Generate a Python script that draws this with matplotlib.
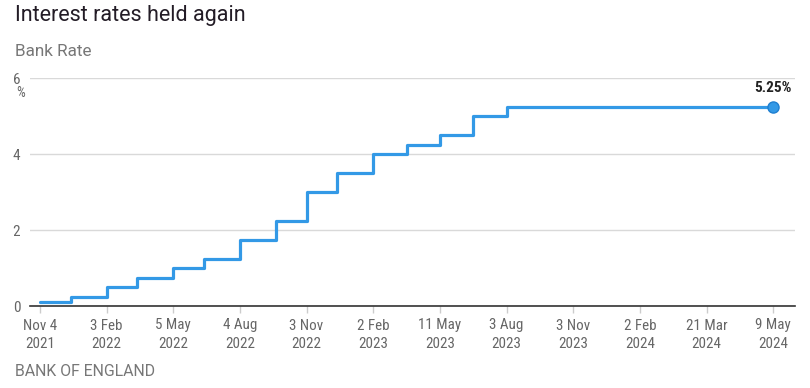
import datetime as dt
import numpy as np
import matplotlib
matplotlib.use("Agg")
import matplotlib.pyplot as plt
import matplotlib.dates as mdates
from matplotlib import font_manager as fm

# ---- data ----
decision_dates = ["2021-11-04", "2021-12-16", "2022-02-03", "2022-03-17", "2022-05-05",
                  "2022-06-16", "2022-08-04", "2022-09-22", "2022-11-03", "2022-12-15",
                  "2023-02-02", "2023-03-23", "2023-05-11", "2023-06-22", "2023-08-03",
                  "2023-09-21", "2023-11-02", "2023-12-14", "2024-02-01", "2024-03-21",
                  "2024-05-09"]
bank_rate = [0.10, 0.25, 0.50, 0.75, 1.00, 1.25, 1.75, 2.25, 3.00, 3.50, 4.00, 4.25,
             4.50, 5.00, 5.25, 5.25, 5.25, 5.25, 5.25, 5.25, 5.25]
tick_dates = ["2021-11-04", "2022-02-03", "2022-05-05", "2022-08-04", "2022-11-03",
              "2023-02-02", "2023-05-11", "2023-08-03", "2023-11-03", "2024-02-02",
              "2024-03-21", "2024-05-09"]
tick_labels = ["Nov 4\n2021", "3 Feb\n2022", "5 May\n2022", "4 Aug\n2022", "3 Nov\n2022",
               "2 Feb\n2023", "11 May\n2023", "3 Aug\n2023", "3 Nov\n2023", "2 Feb\n2024",
               "21 Mar\n2024", "9 May\n2024"]
y_ticks = [0, 2, 4, 6]
title = "Interest rates held again"
subtitle = "Bank Rate"
source = "BANK OF ENGLAND"
end_label = "5.25%"

# ---- fonts ----
def _is_bold(f):
    try:
        return int(f.weight) >= 600
    except (TypeError, ValueError):
        return str(f.weight).lower() in ("bold", "semibold", "demibold", "heavy", "black")

def narrow_font(bold=False):
    fl = [f for f in fm.fontManager.ttflist if str(f.style) == "normal"]
    for fam in ["Roboto Condensed", "Liberation Sans Narrow", "Open Sans Condensed"]:
        cands = [f for f in fl if f.name == fam]
        if cands:
            pick = [f for f in cands if _is_bold(f) == bold]
            return fm.FontProperties(fname=(pick or cands)[0].fname)
    cands = [f for f in fl if f.name == "DejaVu Sans" and "ondensed" in str(f.stretch)]
    if cands:
        pick = [f for f in cands if _is_bold(f) == bold]
        return fm.FontProperties(fname=(pick or cands)[0].fname)
    return fm.FontProperties(family="DejaVu Sans", weight="bold" if bold else "normal")

NARROW = narrow_font()
NARROW_B = narrow_font(True)

dates = [dt.datetime.strptime(d, "%Y-%m-%d") for d in decision_dates]
tdates = [dt.datetime.strptime(d, "%Y-%m-%d") for d in tick_dates]

# piecewise time scale: labelled dates are spaced evenly (as in the original chart)
tn = mdates.date2num(tdates)
slot = np.arange(len(tn), dtype=float)

def fwd(x):
    x = np.asarray(x, dtype=float)
    y = np.interp(x, tn, slot)
    lo, hi = x < tn[0], x > tn[-1]
    y = np.where(lo, (x - tn[0]) / (tn[1] - tn[0]), y)
    y = np.where(hi, slot[-1] + (x - tn[-1]) / (tn[-1] - tn[-2]), y)
    return y

def inv(y):
    y = np.asarray(y, dtype=float)
    x = np.interp(y, slot, tn)
    lo, hi = y < 0, y > slot[-1]
    x = np.where(lo, tn[0] + y * (tn[1] - tn[0]), x)
    x = np.where(hi, tn[-1] + (y - slot[-1]) * (tn[-1] - tn[-2]), x)
    return x

W, H = 810, 388
fig = plt.figure(figsize=(W / 100, H / 100), dpi=100)
ax = fig.add_axes([30 / W, 1 - 306 / H, 765 / W, 228 / H])
ax.xaxis_date()
ax.set_xscale("function", functions=(fwd, inv))

blue = "#3399e6"
ax.step(dates, bank_rate, where="post", color=blue, lw=2.3,
        solid_joinstyle="round", solid_capstyle="round", zorder=3, clip_on=False)
ax.plot([dates[-1]], [bank_rate[-1]], "o", ms=8, mfc=blue, mec="#1f7fd0", mew=1,
        zorder=4, clip_on=False)
ax.annotate(end_label, (dates[-1], bank_rate[-1]), xytext=(0, 8),
            textcoords="offset points", ha="center", va="bottom",
            fontproperties=NARROW_B, fontsize=11, color="#222222")

ax.set_xlim(dates[0] - dt.timedelta(days=13.5), dates[-1] + dt.timedelta(days=16))
ax.set_ylim(0, 6)

ax.set_yticks(y_ticks)
ax.set_yticklabels([str(v) for v in y_ticks])
for lab in ax.get_yticklabels():
    lab.set_fontproperties(NARROW)
    lab.set_fontsize(11)
ax.tick_params(axis="y", length=0, pad=7, labelcolor="#666666")
ax.grid(axis="y", color="#d9d9d9", lw=1)
ax.set_axisbelow(True)

ax.set_xticks(tdates)
ax.set_xticks([], minor=True)
ax.set_xticklabels(tick_labels, linespacing=1.45)
for lab in ax.get_xticklabels():
    lab.set_fontproperties(NARROW)
    lab.set_fontsize(10.8)
ax.tick_params(axis="x", length=5, color="#cccccc", width=1, pad=4, labelcolor="#666666")

for s in ["top", "right", "left"]:
    ax.spines[s].set_visible(False)
ax.spines["bottom"].set_color("#333333")
ax.spines["bottom"].set_linewidth(1.2)

fig.text(16 / W, 1 - 93 / H, "%", fontproperties=NARROW, fontsize=10, color="#666666",
         ha="left", va="center")

fig.text(15 / W, 1 - 15 / H, title, family="Roboto", fontsize=15.5, color="#231c26",
         ha="left", va="center")
fig.text(15 / W, 1 - 51 / H, subtitle, family="Roboto", fontsize=12.3, color="#777777",
         ha="left", va="center")
fig.text(15 / W, 1 - 371 / H, source, family="Roboto", fontsize=11.4, color="#777777",
         ha="left", va="center")

fig.savefig("out.png", dpi=100)
